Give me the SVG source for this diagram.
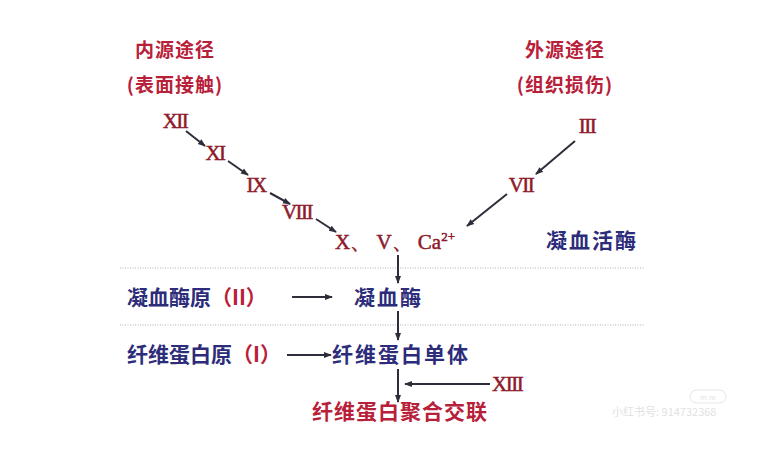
<svg xmlns="http://www.w3.org/2000/svg" width="767" height="450" viewBox="0 0 767 450">
<defs>
<marker id="ah" markerWidth="8" markerHeight="8" refX="7" refY="4" orient="auto" markerUnits="userSpaceOnUse">
<path d="M0,1 L8,4 L0,7 Z" fill="#2e2e3a"/>
</marker>
</defs>
<style>
.zh{font-family:"Noto Sans CJK SC","Noto Sans",sans-serif;font-size:21px;font-weight:bold}
.ttl{font-size:19px;letter-spacing:1px}
.red{fill:#b8203a}
.blue{fill:#2c2c7a}
.rn{font-family:"Liberation Serif",serif;font-size:21px;fill:#8e1a2a;letter-spacing:-1.5px;stroke:#8e1a2a;stroke-width:0.5}
.ln{stroke:#2e2e3a;stroke-width:2;fill:none}
.dot{stroke:#b0b0b0;stroke-width:1;stroke-dasharray:1 1.5}
</style>
<rect width="767" height="450" fill="#ffffff"/>
<g id="intrinsic"><text class="zh ttl red" x="175" y="57" text-anchor="middle">内源途径</text><text class="zh ttl red" x="175" y="92" text-anchor="middle">(表面接触)</text></g>
<g id="extrinsic"><text class="zh ttl red" x="565" y="57" text-anchor="middle">外源途径</text><text class="zh ttl red" x="565" y="92" text-anchor="middle">(组织损伤)</text></g>
<g id="f12"><text class="rn" x="175" y="128" text-anchor="middle">XII</text></g>
<g id="f11"><text class="rn" x="215" y="160" text-anchor="middle">XI</text></g>
<g id="f9"><text class="rn" x="256" y="192" text-anchor="middle">IX</text></g>
<g id="f8"><text class="rn" x="297" y="219" text-anchor="middle">VIII</text></g>
<g id="f3"><text class="rn" x="587" y="133" text-anchor="middle">III</text></g>
<g id="f7"><text class="rn" x="521" y="192" text-anchor="middle">VII</text></g>
<g id="fx"><text class="rn" x="335" y="249" style="letter-spacing:0">X、 V、 Ca<tspan font-size="13" dy="-8">2+</tspan></text></g>
<g id="thromboplastin"><text class="zh blue" x="546" y="248" style="letter-spacing:2px">凝血活酶</text></g>
<g id="prothrombin"><text class="zh blue" x="127" y="305">凝血酶原</text><text class="zh red" x="211" y="305">（II）</text></g>
<g id="thrombin"><text class="zh blue" x="354" y="305" style="letter-spacing:2px">凝血酶</text></g>
<g id="fibrinogen"><text class="zh blue" x="127" y="362">纤维蛋白原</text><text class="zh red" x="232" y="362">（I）</text></g>
<g id="monomer"><text class="zh blue" x="332" y="362" style="letter-spacing:2px">纤维蛋白单体</text></g>
<g id="f13"><text class="rn" x="492" y="391">XIII</text></g>
<g id="crosslink"><text class="zh red" x="312" y="419" style="letter-spacing:1px">纤维蛋白聚合交联</text></g>
<g id="dividers">
<line class="dot" x1="120" y1="268" x2="645" y2="268"/>
<line class="dot" x1="120" y1="325" x2="645" y2="325"/>
</g>
<g id="connectors">
<line class="ln" x1="186" y1="131" x2="205" y2="146" marker-end="url(#ah)"/>
<line class="ln" x1="228" y1="161" x2="248" y2="175" marker-end="url(#ah)"/>
<line class="ln" x1="270" y1="193" x2="290" y2="204" marker-end="url(#ah)"/>
<line class="ln" x1="316" y1="219" x2="336" y2="232" marker-end="url(#ah)"/>
<line class="ln" x1="575" y1="141" x2="536" y2="174" marker-end="url(#ah)"/>
<line class="ln" x1="507" y1="194" x2="467" y2="226" marker-end="url(#ah)"/>
<line class="ln" x1="398" y1="255" x2="398" y2="283" marker-end="url(#ah)"/>
<line class="ln" x1="292" y1="297" x2="332" y2="297" marker-end="url(#ah)"/>
<line class="ln" x1="398" y1="311" x2="398" y2="340" marker-end="url(#ah)"/>
<line class="ln" x1="287" y1="355" x2="331" y2="355" marker-end="url(#ah)"/>
<line class="ln" x1="398" y1="369" x2="398" y2="402" marker-end="url(#ah)"/>
<line class="ln" x1="490" y1="384" x2="405" y2="384" marker-end="url(#ah)"/>
</g>
<g id="watermark" opacity="0.35">
<rect x="690" y="390" width="36" height="13" rx="6.5" fill="none" stroke="#bbb" stroke-width="1"/>
<text x="708" y="400" font-family="Liberation Sans,sans-serif" font-size="8" fill="#aaa" text-anchor="middle">m m</text>
<text x="612" y="416" font-family="Noto Sans CJK SC,sans-serif" font-size="11" fill="#aaa">小红书号: 914732368</text>
</g>
</svg>
